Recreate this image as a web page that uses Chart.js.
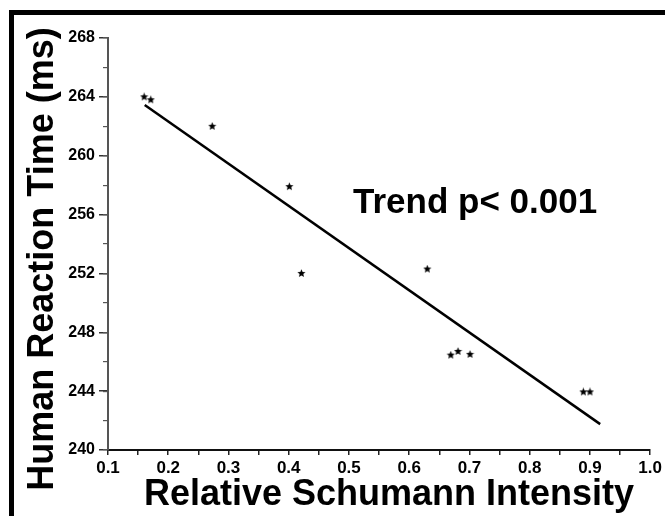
<!DOCTYPE html>
<html>
<head>
<meta charset="utf-8">
<script src="https://cdn.jsdelivr.net/npm/chart.js@4.4.1/dist/chart.umd.min.js"></script>
<style>
  html, body { margin: 0; padding: 0; background: #fff; overflow: hidden; }
  #wrap { width: 665px; height: 516px; position: relative; }
</style>
</head>
<body>
<div id="wrap"><canvas id="c" width="665" height="516"></canvas></div>
<script>
// ---- data ----
const schumann = [0.160, 0.171, 0.273, 0.401, 0.421, 0.630, 0.669, 0.681, 0.701, 0.889, 0.900];
const reactionTime = [264.0, 263.8, 262.0, 257.9, 252.0, 252.3, 246.45, 246.7, 246.5, 243.95, 243.95];
const trendX = [0.161, 0.917];
const trendY = [263.45, 241.76];
const xTickLabels = ['0.1', '0.2', '0.3', '0.4', '0.5', '0.6', '0.7', '0.8', '0.9', '1.0'];
const yTickLabels = ['240', '244', '248', '252', '256', '260', '264', '268'];
const xTitle = 'Relative Schumann Intensity';
const yTitle = 'Human Reaction Time (ms)';
const annotationText = 'Trend p< 0.001';

const FONT = "'Liberation Sans', Arial, Helvetica, sans-serif";

// five-pointed star marker
function makeStar(size) {
  const c = document.createElement('canvas');
  c.width = size; c.height = size;
  const g = c.getContext('2d');
  const cx = size / 2, cy = size / 2, R = size / 2 - 0.2, r = R * 0.45;
  g.beginPath();
  for (let i = 0; i < 10; i++) {
    const rad = i % 2 === 0 ? R : r;
    const a = -Math.PI / 2 + i * Math.PI / 5;
    const px = cx + rad * Math.cos(a), py = cy + rad * Math.sin(a);
    if (i === 0) g.moveTo(px, py); else g.lineTo(px, py);
  }
  g.closePath();
  g.fillStyle = '#000';
  g.fill();
  return c;
}
const starImg = makeStar(9);

const pointData = schumann.map((x, i) => ({ x: x, y: reactionTime[i] }));
const trendData = trendX.map((x, i) => ({ x: x, y: trendY[i] }));

const decorPlugin = {
  id: 'decor',
  beforeDraw(chart) {
    const ctx = chart.ctx;
    ctx.save();
    ctx.fillStyle = '#fff';
    ctx.fillRect(0, 0, chart.width, chart.height);
    ctx.fillStyle = '#000';
    ctx.fillRect(9, 10, chart.width - 9, 5);
    ctx.fillRect(9, 10, 5, chart.height - 10);
    ctx.restore();
  },
  afterDraw(chart) {
    const ctx = chart.ctx;
    ctx.save();
    ctx.fillStyle = '#000';
    ctx.textBaseline = 'alphabetic';
    // x title
    ctx.font = 'bold 36px ' + FONT;
    ctx.textAlign = 'center';
    ctx.fillText(xTitle, 389, 505);
    // y title
    ctx.save();
    ctx.translate(53, 259);
    ctx.rotate(-Math.PI / 2);
    ctx.fillText(yTitle, 0, 0);
    ctx.restore();
    // annotation
    ctx.font = 'bold 35px ' + FONT;
    ctx.textAlign = 'left';
    ctx.fillText(annotationText, 353, 213);
    ctx.restore();
  }
};

new Chart(document.getElementById('c'), {
  type: 'scatter',
  data: {
    datasets: [
      {
        label: 'points',
        data: pointData,
        pointStyle: starImg,
        pointRadius: 4,
        showLine: false
      },
      {
        label: 'trend',
        type: 'line',
        data: trendData,
        borderColor: '#000',
        borderWidth: 2.5,
        pointRadius: 0,
        fill: false,
        tension: 0
      }
    ]
  },
  options: {
    responsive: false,
    animation: false,
    devicePixelRatio: 1,
    layout: { padding: { top: 38, right: 13, left: 0, bottom: 0 } },
    plugins: { legend: { display: false }, tooltip: { enabled: false } },
    scales: {
      x: {
        type: 'linear',
        min: 0.1,
        max: 1.0,
        afterBuildTicks(scale) {
          const t = [];
          for (let i = 0; i <= 18; i++) t.push({ value: 0.1 + i * 0.05 });
          scale.ticks = t;
        },
        ticks: {
          autoSkip: false,
          maxRotation: 0,
          padding: 3,
          color: '#000',
          font: { family: FONT, size: 17, weight: 'bold' },
          callback(v, i) { return i % 2 === 0 ? xTickLabels[i / 2] : ''; }
        },
        grid: { display: true, drawOnChartArea: false, drawTicks: true, tickLength: 5, color: '#222', lineWidth: 1.5 },
        border: { display: true, color: '#111', width: 2 },
        afterFit(scale) { scale.height = 66; }
      },
      y: {
        type: 'linear',
        position: 'left',
        weight: 1,
        min: 240,
        max: 268,
        afterBuildTicks(scale) {
          scale.ticks = yTickLabels.map(s => ({ value: Number(s) }));
        },
        ticks: {
          autoSkip: false,
          padding: 4,
          color: '#000',
          font: { family: FONT, size: 16, weight: 'bold' },
          callback(v, i) { return yTickLabels[i]; }
        },
        grid: { display: true, drawOnChartArea: false, drawTicks: true, tickLength: 9, color: '#333', lineWidth: 1.5 },
        border: { display: true, color: '#555', width: 2 },
        afterFit(scale) { scale.width = 108; }
      },
      y2: {
        type: 'linear',
        position: 'left',
        weight: 0,
        min: 240,
        max: 268,
        ticks: { display: false, stepSize: 2 },
        grid: { display: true, drawOnChartArea: false, drawTicks: true, tickLength: 5, color: '#555', lineWidth: 1.2 },
        border: { display: false },
        afterFit(scale) { scale.width = 0; }
      }
    }
  },
  plugins: [decorPlugin]
});
</script>
</body>
</html>
